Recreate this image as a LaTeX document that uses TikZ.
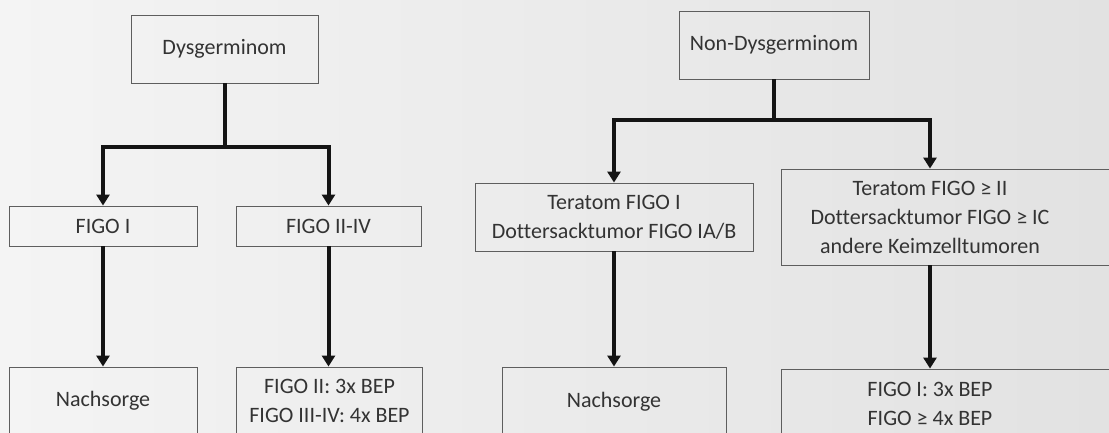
\documentclass[tikz,border=0pt]{standalone}
\usepackage{fontspec}
\setmainfont{Carlito}[Ligatures={NoCommon}]
\usetikzlibrary{arrows.meta}
\definecolor{bgleft}{HTML}{F4F4F4}
\definecolor{bgright}{HTML}{E2E2E2}
\definecolor{frame}{HTML}{5E5E5E}
\definecolor{ink}{HTML}{333333}
\begin{document}
\begin{tikzpicture}[x=1pt,y=-1pt,
  box/.style={draw=frame, line width=0.9pt, text=ink, align=center, inner sep=0pt,
              font=\fontsize{22}{29}\selectfont},
  label/.style={text=ink, align=center, inner sep=0pt, font=\fontsize{22}{29}\selectfont},
  link/.style={line width=4pt, draw=black!92, line join=miter},
  arr/.style={link, -{Triangle[width=13pt,length=11pt]}}]
\useasboundingbox (0,0) rectangle (1109,432);
\clip (0,0) rectangle (1109,432);
\shade[left color=bgleft, right color=bgright] (0,0) rectangle (1109,432);

% left tree
\node[box, minimum width=187pt, minimum height=68pt] (dys) at (224.5,49) {Dysgerminom};
\node[box, minimum width=188pt, minimum height=40pt] (figoA) at (103,226) {FIGO I};
\node[box, minimum width=185pt, minimum height=40pt] (figoB) at (328.5,226) {FIGO II-IV};
\node[box, minimum width=188pt, minimum height=67pt] (nachA) at (103,400.5) {Nachsorge};
\node[box, minimum width=186pt, minimum height=68pt] (bepA) at (329.5,401) {FIGO II: 3x BEP\\FIGO III-IV: 4x BEP};

\path (dys.south) ++(0,64) coordinate (jA);
\draw[link] (dys.south) -- (jA);
\draw[arr] (jA) -| (figoA.north);
\draw[arr] (jA) -| (figoB.north);
\draw[arr] (figoA.south) -- (nachA.north);
\draw[arr] (figoB.south) -- (figoB.south |- bepA.north);

% right tree
\node[box, minimum width=190pt, minimum height=68pt] (nondys) at (774,45) {Non-Dysgerminom};
\node[box, minimum width=278pt, minimum height=68pt] (terA) at (614,217) {Teratom FIGO I\\Dottersacktumor FIGO IA/B};
\node[box, minimum width=340pt, minimum height=96pt] (terB) at (951,217) {};
\node[label] (terBtext) at (930,217) {Teratom FIGO ≥ II\\Dottersacktumor FIGO ≥ IC\\andere Keimzelltumoren};
\node[box, minimum width=224pt, minimum height=70pt] (nachB) at (614,402) {Nachsorge};
\node[box, minimum width=340pt, minimum height=70pt] (bepB) at (951,404) {};
\node[label] (bepBtext) at (930,404) {FIGO I: 3x BEP\\FIGO ≥ 4x BEP};

\path (nondys.south) ++(0,41) coordinate (jB);
\draw[link] (nondys.south) -- (jB);
\draw[arr] (jB) -| (terA.north);
\draw[arr] (jB) -| (terBtext |- terB.north);
\draw[arr] (terA.south) -- (nachB.north);
\draw[arr] (terBtext |- terB.south) -- (terBtext |- bepB.north);
\end{tikzpicture}
\end{document}
